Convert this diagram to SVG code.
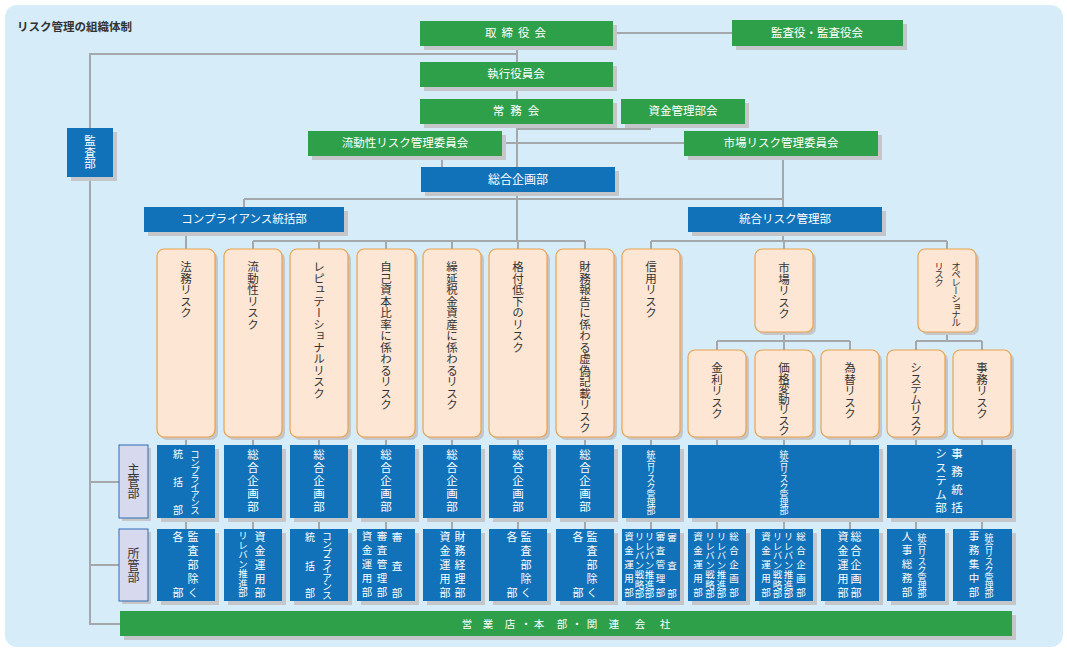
<svg xmlns="http://www.w3.org/2000/svg" width="1067" height="648" viewBox="0 0 1067 648">
<style>
text{font-family:"Noto Sans CJK JP","Noto Sans",sans-serif}
.bg{fill:#D6EDF9}
.sh{fill:#C4C6C9}
.g{fill:#2EA04A}
.b{fill:#1172BA}
.r{fill:#FDE6D4;stroke:#E9A24C;stroke-width:1.2}
.lb{fill:#D7D9EE;stroke:#2F6DB5;stroke-width:1}
.ln{fill:none;stroke:#A5A8AA;stroke-width:2}
.w{fill:#fff;font-size:11.5px}
.m{text-anchor:middle}
.t{fill:#333;font-size:11.5px}
.v{writing-mode:vertical-rl}
.s{font-size:9px;letter-spacing:-1px}
.d{font-size:11px;letter-spacing:3px}
.n{font-size:9.5px}
.nd{font-size:9.5px;letter-spacing:4.5px}
.k{font-size:10px}
</style>
<rect class="bg" x="5" y="5" width="1058" height="642" rx="12"/>
<text x="17" y="31" style="font-size:11.5px;font-weight:bold;fill:#333">リスク管理の組織体制</text>

<g id="connectors" class="ln">
<path d="M517 33V241"/>
<path d="M612 33H732"/>
<path d="M517 54H90V624H120"/>
<path d="M90 482H119M90 565H119"/>
<path d="M650 124V129H517"/>
<path d="M502 143H684"/>
<path d="M442 156V167"/>
<path d="M783 156V241"/>
<path d="M244 199H783M244 199V207"/>
<path d="M186 232V249"/>
<path d="M253 241H585M253 241V249M319 241V249M386 241V249M452 241V249M518 241V249M585 241V249"/>
<path d="M651 241H947M651 241V249M784 241V249M947 241V249"/>
<path d="M784 332V350M717 341H850M717 341V350M850 341V350"/>
<path d="M947 332V341M916 341H982M916 341V350M982 341V350"/>
<path d="M186 437V445M253 437V445M319 437V445M386 437V445M452 437V445M518 437V445M585 437V445M651 437V445M717 437V445M784 437V445M850 437V445M916 437V445M982 437V445"/>
<path d="M186 518V529M253 518V529M319 518V529M386 518V529M452 518V529M518 518V529M585 518V529M651 518V529M717 518V529M784 518V529M850 518V529M916 518V529M982 518V529"/>
</g>

<g id="torishimariyakukai"><rect class="sh" x="424" y="25" width="193" height="25"/><rect class="g" x="420" y="21" width="193" height="25"/><text class="w m" x="518" y="37" style="letter-spacing:5px">取締役会</text></g>
<g id="kansayaku"><rect class="sh" x="736" y="24" width="171" height="26"/><rect class="g" x="732" y="20" width="171" height="26"/><text class="w m" x="817" y="37">監査役・監査役会</text></g>
<g id="shikko"><rect class="sh" x="424" y="66" width="193" height="25"/><rect class="g" x="420" y="62" width="193" height="25"/><text class="w m" x="516" y="78">執行役員会</text></g>
<g id="jomukai"><rect class="sh" x="424" y="103" width="193" height="25"/><rect class="g" x="420" y="99" width="193" height="25"/><text class="w m" x="519" y="115" style="letter-spacing:6px">常務会</text></g>
<g id="shikinkanri"><rect class="sh" x="625" y="103" width="124" height="25"/><rect class="g" x="621" y="99" width="124" height="25"/><text class="w m" x="683" y="115">資金管理部会</text></g>
<g id="kanbu"><rect class="sh" x="71" y="132" width="46" height="49"/><rect class="b" x="67" y="128" width="46" height="49"/><text class="w v m" x="90" y="152.5">監査部</text></g>
<g id="ryudosei-iinkai"><rect class="sh" x="312" y="135" width="194" height="25"/><rect class="g" x="308" y="131" width="194" height="25"/><text class="w m" x="405" y="147">流動性リスク管理委員会</text></g>
<g id="shijo-iinkai"><rect class="sh" x="688" y="135" width="194" height="25"/><rect class="g" x="684" y="131" width="194" height="25"/><text class="w m" x="781" y="147">市場リスク管理委員会</text></g>
<g id="sogokikaku"><rect class="sh" x="425" y="171" width="194" height="25"/><rect class="b" x="421" y="167" width="194" height="25"/><text class="w m" x="518" y="184" style="font-size:12px">総合企画部</text></g>
<g id="compliance"><rect class="sh" x="148" y="211" width="200" height="25"/><rect class="b" x="144" y="207" width="200" height="25"/><text class="w m" x="244" y="223">コンプライアンス統括部</text></g>
<g id="togo-risk"><rect class="sh" x="692" y="211" width="194" height="25"/><rect class="b" x="688" y="207" width="194" height="25"/><text class="w m" x="785" y="223">統合リスク管理部</text></g>

<g id="risk-houmu"><rect class="sh" x="160" y="252" width="58" height="188" rx="7"/><rect class="r" x="157" y="249" width="58" height="188" rx="7"/><text class="t v" x="186" y="261">法務リスク</text></g>
<g id="risk-ryudosei"><rect class="sh" x="227" y="252" width="58" height="188" rx="7"/><rect class="r" x="224" y="249" width="58" height="188" rx="7"/><text class="t v" x="253" y="261">流動性リスク</text></g>
<g id="risk-reputation"><rect class="sh" x="293" y="252" width="58" height="188" rx="7"/><rect class="r" x="290" y="249" width="58" height="188" rx="7"/><text class="t v" x="319" y="261">レピュテーショナルリスク</text></g>
<g id="risk-jikoshihon"><rect class="sh" x="360" y="252" width="58" height="188" rx="7"/><rect class="r" x="357" y="249" width="58" height="188" rx="7"/><text class="t v" x="386" y="261">自己資本比率に係わるリスク</text></g>
<g id="risk-kurinobe"><rect class="sh" x="426" y="252" width="58" height="188" rx="7"/><rect class="r" x="423" y="249" width="58" height="188" rx="7"/><text class="t v" x="452" y="261">繰延税金資産に係わるリスク</text></g>
<g id="risk-kakuzuke"><rect class="sh" x="492" y="252" width="58" height="188" rx="7"/><rect class="r" x="489" y="249" width="58" height="188" rx="7"/><text class="t v" x="518" y="261">格付低下のリスク</text></g>
<g id="risk-zaimu"><rect class="sh" x="559" y="252" width="58" height="188" rx="7"/><rect class="r" x="556" y="249" width="58" height="188" rx="7"/><text class="t v" x="585" y="261">財務報告に係わる虚偽記載リスク</text></g>
<g id="risk-shinyo"><rect class="sh" x="625" y="252" width="58" height="188" rx="7"/><rect class="r" x="622" y="249" width="58" height="188" rx="7"/><text class="t v" x="651" y="261">信用リスク</text></g>
<g id="risk-shijo"><rect class="sh" x="758" y="252" width="58" height="83" rx="7"/><rect class="r" x="755" y="249" width="58" height="83" rx="7"/><text class="t v" x="784" y="262">市場リスク</text></g>
<g id="risk-operational"><rect class="sh" x="921" y="252" width="58" height="83" rx="7"/><rect class="r" x="918" y="249" width="58" height="83" rx="7"/><text class="t v" x="956" y="262" style="font-size:9.5px;letter-spacing:-1.5px">オペレーショナル</text><text class="t v" x="939" y="262" style="font-size:9.5px;letter-spacing:-1.5px">リスク</text></g>
<g id="risk-kinri"><rect class="sh" x="691" y="353" width="58" height="87" rx="7"/><rect class="r" x="688" y="350" width="58" height="87" rx="7"/><text class="t v" x="717" y="362">金利リスク</text></g>
<g id="risk-kakaku"><rect class="sh" x="758" y="353" width="58" height="87" rx="7"/><rect class="r" x="755" y="350" width="58" height="87" rx="7"/><text class="t v" x="784" y="362" style="letter-spacing:-1px">価格変動リスク</text></g>
<g id="risk-kawase"><rect class="sh" x="824" y="353" width="58" height="87" rx="7"/><rect class="r" x="821" y="350" width="58" height="87" rx="7"/><text class="t v" x="850" y="362">為替リスク</text></g>
<g id="risk-system"><rect class="sh" x="890" y="353" width="58" height="87" rx="7"/><rect class="r" x="887" y="350" width="58" height="87" rx="7"/><text class="t v" x="916" y="362" style="letter-spacing:-1px">システムリスク</text></g>
<g id="risk-jimu"><rect class="sh" x="956" y="353" width="58" height="87" rx="7"/><rect class="r" x="953" y="350" width="58" height="87" rx="7"/><text class="t v" x="982" y="362">事務リスク</text></g>

<g id="label-shukan"><rect class="sh" x="122" y="448" width="29" height="73"/><rect class="lb" x="119" y="445" width="29" height="73"/><text class="t v m" x="133.5" y="481.5" style="font-size:12px">主管部</text></g>
<g id="label-shokan"><rect class="sh" x="122" y="532" width="29" height="72"/><rect class="lb" x="119" y="529" width="29" height="72"/><text class="t v m" x="133.5" y="565" style="font-size:12px">所管部</text></g>

<g id="shukan-1"><rect class="sh" x="161" y="449" width="58" height="73"/><rect class="b" x="157" y="445" width="58" height="73"/><text class="w v" x="195" y="450" style="font-size:9.5px;letter-spacing:-1.5px">コンプライアンス</text><text class="w m k" x="178" y="458">統</text><text class="w m k" x="178" y="486">括</text><text class="w m k" x="178" y="514">部</text></g>
<g id="shukan-2"><rect class="sh" x="228" y="449" width="58" height="73"/><rect class="b" x="224" y="445" width="58" height="73"/><text class="w v" x="253" y="449" style="letter-spacing:1.5px">総合企画部</text></g>
<g id="shukan-3"><rect class="sh" x="294" y="449" width="58" height="73"/><rect class="b" x="290" y="445" width="58" height="73"/><text class="w v" x="319" y="449" style="letter-spacing:1.5px">総合企画部</text></g>
<g id="shukan-4"><rect class="sh" x="361" y="449" width="58" height="73"/><rect class="b" x="357" y="445" width="58" height="73"/><text class="w v" x="386" y="449" style="letter-spacing:1.5px">総合企画部</text></g>
<g id="shukan-5"><rect class="sh" x="427" y="449" width="58" height="73"/><rect class="b" x="423" y="445" width="58" height="73"/><text class="w v" x="452" y="449" style="letter-spacing:1.5px">総合企画部</text></g>
<g id="shukan-6"><rect class="sh" x="493" y="449" width="58" height="73"/><rect class="b" x="489" y="445" width="58" height="73"/><text class="w v" x="518" y="449" style="letter-spacing:1.5px">総合企画部</text></g>
<g id="shukan-7"><rect class="sh" x="560" y="449" width="58" height="73"/><rect class="b" x="556" y="445" width="58" height="73"/><text class="w v" x="585" y="449" style="letter-spacing:1.5px">総合企画部</text></g>
<g id="shukan-8"><rect class="sh" x="626" y="449" width="58" height="73"/><rect class="b" x="622" y="445" width="58" height="73"/><text class="w v s" x="651" y="450">統合リスク管理部</text></g>
<g id="shukan-9"><rect class="sh" x="692" y="449" width="191" height="73"/><rect class="b" x="688" y="445" width="191" height="73"/><text class="w v s" x="784" y="450">統合リスク管理部</text></g>
<g id="shukan-10"><rect class="sh" x="891" y="449" width="125" height="73"/><rect class="b" x="887" y="445" width="125" height="73"/><text class="w v" x="957" y="448" style="letter-spacing:6.5px">事務統括</text><text class="w v" x="941" y="448" style="letter-spacing:2px">システム部</text></g>

<g id="shokan-1"><rect class="sh" x="161" y="533" width="58" height="72"/><rect class="b" x="157" y="529" width="58" height="72"/><text class="w v d" x="193" y="531">監査部除く</text><text class="w m" x="178" y="541" style="font-size:11px">各</text><text class="w m" x="178" y="597" style="font-size:11px">部</text></g>
<g id="shokan-2"><rect class="sh" x="228" y="533" width="58" height="72"/><rect class="b" x="224" y="529" width="58" height="72"/><text class="w v d" x="260" y="531">資金運用部</text><text class="w v n" x="243" y="531">リレバン推進部</text></g>
<g id="shokan-3"><rect class="sh" x="294" y="533" width="58" height="72"/><rect class="b" x="290" y="529" width="58" height="72"/><text class="w v" x="327" y="531" style="font-size:10px;letter-spacing:-1.6px">コンプライアンス</text><text class="w m k" x="310" y="541">統</text><text class="w m k" x="310" y="570">括</text><text class="w m k" x="310" y="597">部</text></g>
<g id="shokan-4"><rect class="sh" x="361" y="533" width="58" height="72"/><rect class="b" x="357" y="529" width="58" height="72"/><text class="w v" x="367" y="531" style="font-size:10.5px;letter-spacing:3.5px">資金運用部</text><text class="w v" x="382" y="531" style="font-size:10.5px;letter-spacing:3.5px">審査管理部</text><text class="w m" x="397" y="541" style="font-size:10.5px">審</text><text class="w m" x="397" y="570" style="font-size:10.5px">査</text><text class="w m" x="397" y="597" style="font-size:10.5px">部</text></g>
<g id="shokan-5"><rect class="sh" x="427" y="533" width="58" height="72"/><rect class="b" x="423" y="529" width="58" height="72"/><text class="w v d" x="445" y="531">資金運用部</text><text class="w v d" x="460" y="531">財務経理部</text></g>
<g id="shokan-6"><rect class="sh" x="493" y="533" width="58" height="72"/><rect class="b" x="489" y="529" width="58" height="72"/><text class="w v d" x="526" y="531">監査部除く</text><text class="w m" x="512" y="541" style="font-size:11px">各</text><text class="w m" x="512" y="597" style="font-size:11px">部</text></g>
<g id="shokan-7"><rect class="sh" x="560" y="533" width="58" height="72"/><rect class="b" x="556" y="529" width="58" height="72"/><text class="w v d" x="592" y="531">監査部除く</text><text class="w m" x="578" y="541" style="font-size:11px">各</text><text class="w m" x="578" y="597" style="font-size:11px">部</text></g>
<g id="shokan-8"><rect class="sh" x="626" y="533" width="58" height="72"/><rect class="b" x="622" y="529" width="58" height="72"/><text class="w v nd" x="629" y="532">資金運用部</text><text class="w v n" x="639.5" y="532">リレバン戦略部</text><text class="w v n" x="649.5" y="532">リレバン推進部</text><text class="w v nd" x="660.5" y="532">審査管理部</text><text class="w m n" x="672" y="541">審</text><text class="w m n" x="672" y="569">査</text><text class="w m n" x="672" y="597">部</text></g>
<g id="shokan-9"><rect class="sh" x="692" y="533" width="58" height="72"/><rect class="b" x="688" y="529" width="58" height="72"/><text class="w v nd" x="698" y="532">資金運用部</text><text class="w v n" x="710" y="532">リレバン戦略部</text><text class="w v n" x="721.5" y="532">リレバン推進部</text><text class="w v nd" x="734" y="532">総合企画部</text></g>
<g id="shokan-10"><rect class="sh" x="759" y="533" width="58" height="72"/><rect class="b" x="755" y="529" width="58" height="72"/><text class="w v nd" x="766" y="532">資金運用部</text><text class="w v n" x="777.5" y="532">リレバン戦略部</text><text class="w v n" x="788.5" y="532">リレバン推進部</text><text class="w v nd" x="801" y="532">総合企画部</text></g>
<g id="shokan-11"><rect class="sh" x="825" y="533" width="58" height="72"/><rect class="b" x="821" y="529" width="58" height="72"/><text class="w v d" x="843" y="531">資金運用部</text><text class="w v d" x="856" y="531">総合企画部</text></g>
<g id="shokan-12"><rect class="sh" x="891" y="533" width="58" height="72"/><rect class="b" x="887" y="529" width="58" height="72"/><text class="w v" x="907" y="531" style="font-size:10.5px;letter-spacing:3.5px">人事総務部</text><text class="w v s" x="922" y="533">統合リスク管理部</text></g>
<g id="shokan-13"><rect class="sh" x="957" y="533" width="59" height="72"/><rect class="b" x="953" y="529" width="59" height="72"/><text class="w v" x="974" y="531" style="font-size:10.5px;letter-spacing:3.5px">事務集中部</text><text class="w v s" x="989" y="533">統合リスク管理部</text></g>

<g id="eigyoten"><rect class="sh" x="124" y="615" width="892" height="25"/><rect class="g" x="120" y="611" width="892" height="25"/><text class="w m" x="467 488 510 526 539 562 577 592 614 640 665" y="627.5" style="font-size:10.5px">営業店・本部・関連会社</text></g>
</svg>
